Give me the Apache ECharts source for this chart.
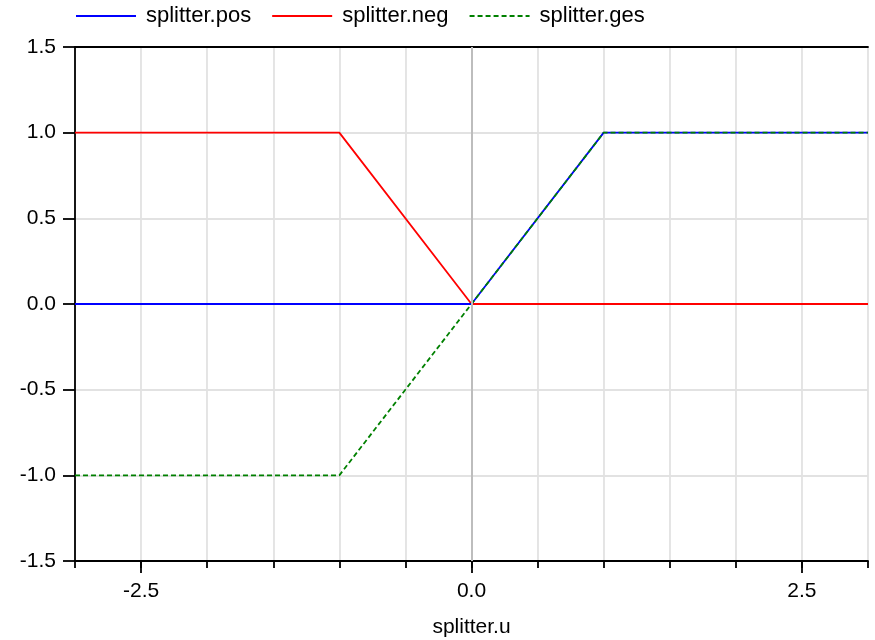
<!DOCTYPE html>
<html>
<head>
<meta charset="utf-8">
<script src="https://cdn.jsdelivr.net/npm/echarts@6/dist/echarts.min.js"></script>
<style>
  html, body { margin: 0; padding: 0; background: #fff; }
  #container { width: 875px; height: 640px; }
</style>
</head>
<body>
<div id="container"></div>
<script>
'use strict';
var uValues = [-3, -1, 0, 1, 3];
var posValues = [0, 0, 0, 1, 1];
var negValues = [1, 1, 0, 0, 0];
var gesValues = [-1, -1, 0, 1, 1];
var xLabelValues = [-2.5, 0, 2.5];
var seriesNames = ['splitter.pos', 'splitter.neg', 'splitter.ges'];

function pairs(ys) {
    return uValues.map(function (u, i) { return [u, ys[i]]; });
}

var font = 'Liberation Sans, Arial, sans-serif';
var dom = document.getElementById('container');
var myChart = echarts.init(dom);

var option = {
    animation: false,
    legend: {
        left: 75,
        top: 5,
        padding: 0,
        itemWidth: 60,
        itemHeight: 22,
        itemGap: 20,
        itemStyle: { opacity: 0 },
        textStyle: { fontFamily: font, fontSize: 22, color: '#000', padding: [0, 0, 0, 5] },
        data: seriesNames
    },
    grid: { left: 75, right: 7, top: 47, bottom: 79, outerBoundsMode: 'none', containLabel: false },
    xAxis: [{
        type: 'value',
        min: -3, max: 3, interval: 0.5,
        name: 'splitter.u',
        nameLocation: 'middle',
        nameGap: 56,
        nameTextStyle: { fontFamily: font, fontSize: 21, color: '#000' },
        axisLine: { onZero: false, lineStyle: { color: '#000', width: 1.8 } },
        axisTick: { length: 7, lineStyle: { color: '#000', width: 1.8 } },
        axisLabel: {
            customValues: xLabelValues,
            margin: 20,
            fontFamily: font, fontSize: 21, color: '#000',
            formatter: function (v) { return v.toFixed(1); }
        },
        splitLine: { show: true, lineStyle: { color: '#e2e2e2', width: 1.8 } }
    }, {
        type: 'value',
        position: 'top',
        min: -3, max: 3,
        axisLine: { onZero: false, lineStyle: { color: '#000', width: 1.8 } },
        axisTick: { show: false },
        axisLabel: { show: false },
        splitLine: { show: false }
    }, {
        type: 'value',
        position: 'bottom',
        min: -3, max: 3,
        axisLine: { show: false, onZero: false },
        axisTick: { show: true, customValues: xLabelValues, length: 12, lineStyle: { color: '#000', width: 1.8 } },
        axisLabel: { show: false },
        splitLine: { show: false }
    }],
    yAxis: {
        type: 'value',
        min: -1.5, max: 1.5, interval: 0.5,
        axisLine: { show: true, onZero: false, lineStyle: { color: '#000', width: 1.8 } },
        axisTick: { show: true, length: 12, lineStyle: { color: '#000', width: 1.8 } },
        axisLabel: {
            margin: 19,
            fontFamily: font, fontSize: 21, color: '#000',
            formatter: function (v) { return v.toFixed(1); }
        },
        splitLine: { show: true, lineStyle: { color: '#e2e2e2', width: 1.8 } }
    },
    series: [{
        name: 'zero',
        type: 'line',
        data: [],
        z: 1,
        markLine: {
            silent: true,
            symbol: 'none',
            label: { show: false },
            lineStyle: { color: '#bdbdbd', type: 'solid', width: 2 },
            data: [{ xAxis: 0 }]
        }
    }, {
        name: seriesNames[0],
        type: 'line',
        symbol: 'none',
        color: '#0000ff',
        lineStyle: { color: '#0000ff', width: 1.8 },
        data: pairs(posValues),
        z: 3
    }, {
        name: seriesNames[1],
        type: 'line',
        symbol: 'none',
        color: '#ff0000',
        lineStyle: { color: '#ff0000', width: 1.8 },
        data: pairs(negValues),
        z: 2
    }, {
        name: seriesNames[2],
        type: 'line',
        symbol: 'none',
        color: '#008000',
        lineStyle: { color: '#008000', width: 1.8, type: [5, 3] },
        data: pairs(gesValues),
        z: 4
    }]
};
myChart.setOption(option);
</script>
</body>
</html>
